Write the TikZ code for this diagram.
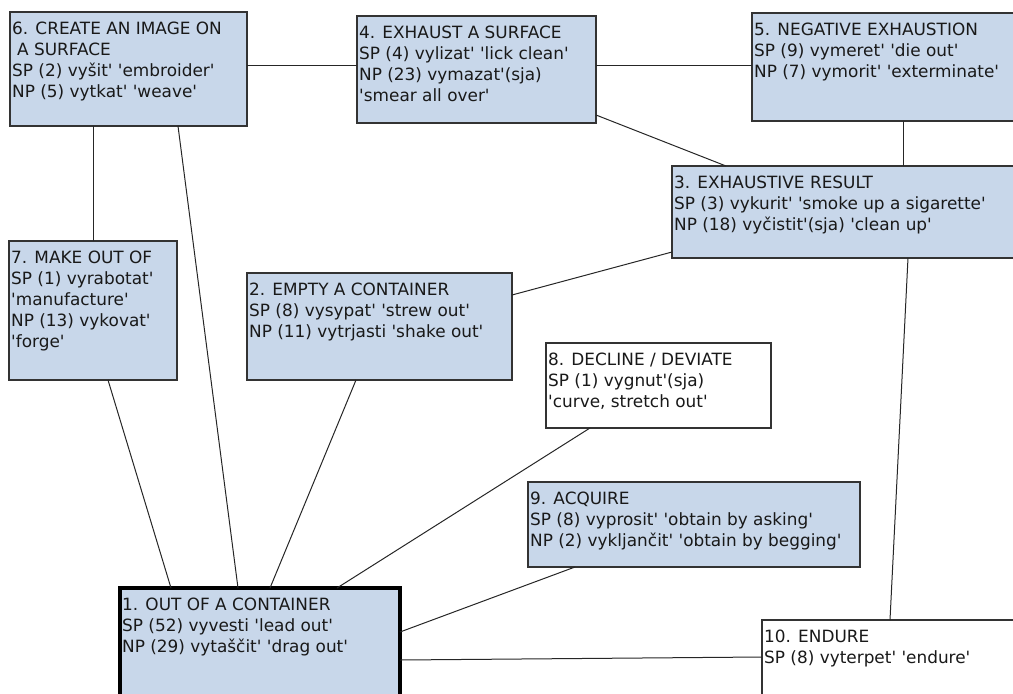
\documentclass[tikz,border=0pt]{standalone}
\usepackage{fontspec}
\newfontfamily\dv{DejaVu Sans}
\definecolor{boxblue}{RGB}{200,215,234}
\tikzset{
 box/.style={draw=black!80, line width=1.2pt, fill=boxblue, anchor=north west, inner sep=0pt, outer sep=0pt},
 wbox/.style={box, fill=white},
 lbl/.style={anchor=base west, inner sep=0pt, font=\dv\fontsize{16.9pt}{21pt}\selectfont, text=black!90},
 link/.style={draw=black!85, line width=1pt},
}
\newcommand{\boxlines}[1]{\parbox[t]{400pt}{\raggedright #1}}
\begin{document}
\begin{tikzpicture}[x=1pt,y=-1pt]
\useasboundingbox (0,0) rectangle (1013,694);
% boxes
\node[box, minimum width=237pt, minimum height=114pt] (b6) at (10,12) {};
\node[box, minimum width=239pt, minimum height=107pt] (b4) at (357,16) {};
\node[box, minimum width=263pt, minimum height=108pt] (b5) at (752,13) {};
\node[box, minimum width=343pt, minimum height=92pt] (b3) at (672,166) {};
\node[box, minimum width=168pt, minimum height=139pt] (b7) at (9,241) {};
\node[box, minimum width=265pt, minimum height=107pt] (b2) at (247,273) {};
\node[wbox, minimum width=225pt, minimum height=85pt] (b8) at (546,343) {};
\node[box, minimum width=332pt, minimum height=85pt] (b9) at (528,482) {};
\node[box, line width=4pt, draw=black, minimum width=280pt, minimum height=120pt] (b1) at (120,588) {};
\node[wbox, minimum width=260pt, minimum height=90pt] (b10) at (762,620) {};
% connectors
\draw[link] ([yshift=-53pt]b6.north east) -- ([yshift=-49pt]b4.north west);
\draw[link] ([yshift=-49pt]b4.north east) -- ([yshift=-52pt]b5.north west);
\draw[link] ([yshift=-99pt]b4.north east) -- ([xshift=54pt]b3.north west);
\draw[link] ([xshift=151pt]b5.south west) -- ([xshift=231pt]b3.north west);
\draw[link] ([xshift=83pt]b6.south west) -- ([xshift=84pt]b7.north west);
\draw[link] ([xshift=168pt]b6.south west) -- ([xshift=118pt]b1.north west);
\draw[link] ([yshift=6pt]b3.south west) -- ([yshift=-22pt]b2.north east);
\draw[link] ([xshift=236pt]b3.south west) -- ([xshift=128pt]b10.north west);
\draw[link] ([xshift=99pt]b7.south west) -- ([xshift=51pt]b1.north west);
\draw[link] ([xshift=109pt]b2.south west) -- ([xshift=150pt]b1.north west);
\draw[link] ([xshift=44pt]b8.south west) -- ([xshift=217pt]b1.north west);
\draw[link] ([xshift=47pt]b9.south west) -- ([yshift=-44pt]b1.north east);
\draw[link] ([yshift=-72pt]b1.north east) -- ([yshift=-37pt]b10.north west);
% texts
\node[lbl] (t6) at ([xshift=2pt,yshift=-22pt]b6.north west) {\boxlines{6. CREATE AN IMAGE ON\\\hspace*{5pt}A SURFACE\\SP (2) vyšit' 'embroider'\\NP (5) vytkat' 'weave'}};
\node[lbl] (t4) at ([xshift=2pt,yshift=-22pt]b4.north west) {\boxlines{4. EXHAUST A SURFACE\\SP (4) vylizat' 'lick clean'\\NP (23) vymazat'(sja)\\'smear all over'}};
\node[lbl] (t5) at ([xshift=2pt,yshift=-22pt]b5.north west) {\boxlines{5. NEGATIVE EXHAUSTION\\SP (9) vymeret' 'die out'\\NP (7) vymorit' 'exterminate'}};
\node[lbl] (t3) at ([xshift=2pt,yshift=-22pt]b3.north west) {\boxlines{3. EXHAUSTIVE RESULT\\SP (3) vykurit' 'smoke up a sigarette'\\NP (18) vyčistit'(sja) 'clean up'}};
\node[lbl] (t7) at ([xshift=2pt,yshift=-22pt]b7.north west) {\boxlines{7. MAKE OUT OF\\SP (1) vyrabotat'\\'manufacture'\\NP (13) vykovat'\\'forge'}};
\node[lbl] (t2) at ([xshift=2pt,yshift=-22pt]b2.north west) {\boxlines{2. EMPTY A CONTAINER\\SP (8) vysypat' 'strew out'\\NP (11) vytrjasti 'shake out'}};
\node[lbl] (t8) at ([xshift=2pt,yshift=-22pt]b8.north west) {\boxlines{8. DECLINE / DEVIATE\\SP (1) vygnut'(sja)\\'curve, stretch out'}};
\node[lbl] (t9) at ([xshift=2pt,yshift=-22pt]b9.north west) {\boxlines{9. ACQUIRE\\SP (8) vyprosit' 'obtain by asking'\\NP (2) vykljančit' 'obtain by begging'}};
\node[lbl] (t1) at ([xshift=2pt,yshift=-22pt]b1.north west) {\boxlines{1. OUT OF A CONTAINER\\SP (52) vyvesti 'lead out'\\NP (29) vytaščit' 'drag out'}};
\node[lbl] (t10) at ([xshift=2pt,yshift=-22pt]b10.north west) {\boxlines{10. ENDURE\\SP (8) vyterpet' 'endure'}};
\end{tikzpicture}
\end{document}
